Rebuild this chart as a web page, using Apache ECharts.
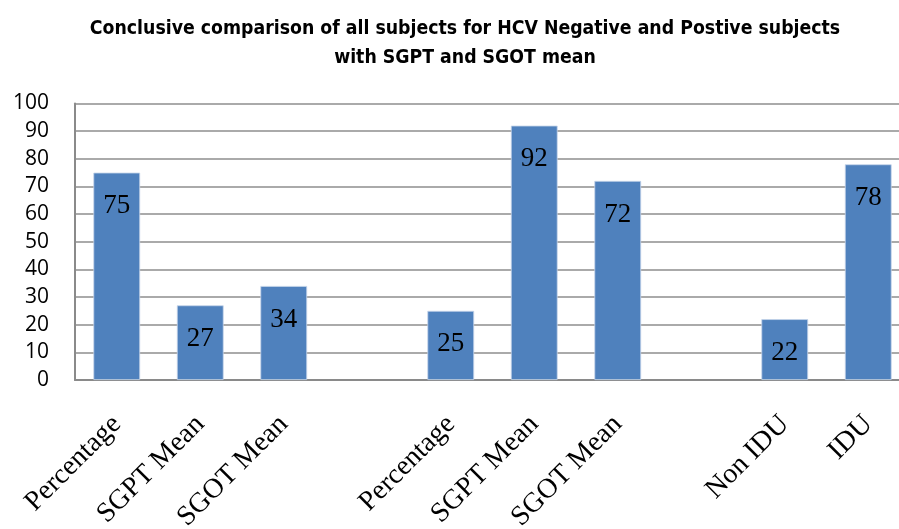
<!DOCTYPE html>
<html>
<head>
<meta charset="utf-8">
<script src="https://cdn.jsdelivr.net/npm/echarts@6/dist/echarts.min.js"></script>
<style>html,body{margin:0;padding:0;background:#fff}#c{width:899px;height:529px}</style>
</head>
<body>
<div id="c"></div>
<script>
const categories = ['Percentage','SGPT Mean','SGOT Mean','','Percentage','SGPT Mean','SGOT Mean','','Non IDU','IDU'];
const values = [75, 27, 34, '-', 25, 92, 72, '-', 22, 78];
const yTicks = {min: 0, max: 100, interval: 10};
const titleText = 'Conclusive comparison of all subjects for HCV Negative and Postive subjects\nwith SGPT and SGOT mean';

const chart = echarts.init(document.getElementById('c'), null, {renderer: 'canvas'});
chart.setOption({
  animation: false,
  backgroundColor: '#ffffff',
  title: {
    text: titleText,
    left: 460,
    top: 9,
    textAlign: 'center',
    textStyle: {
      fontFamily: "'Liberation Sans Narrow', 'DejaVu Sans Condensed', 'Liberation Sans', sans-serif",
      fontWeight: 'bold',
      fontSize: 19.3,
      lineHeight: 29,
      color: '#000'
    }
  },
  grid: {left: 75, width: 835, top: 103.5, bottom: 149, containLabel: false, outerBoundsMode: 'none'},
  xAxis: {
    type: 'category',
    data: categories,
    axisLine: {show: true, lineStyle: {color: '#8a8a8a', width: 2}},
    axisTick: {show: false},
    axisLabel: {
      interval: 0,
      rotate: 45,
      margin: 40,
      fontFamily: "'Liberation Serif', 'DejaVu Serif', serif",
      fontSize: 28,
      color: '#000'
    }
  },
  yAxis: {
    type: 'value',
    min: yTicks.min,
    max: yTicks.max,
    interval: yTicks.interval,
    axisLine: {show: true, lineStyle: {color: '#8a8a8a', width: 2}},
    axisTick: {show: false},
    splitLine: {show: true, lineStyle: {color: '#8e8e8e', width: 1.5}},
    axisLabel: {
      margin: 26,
      fontFamily: "'Open Sans', 'Liberation Sans', sans-serif",
      fontSize: 21,
      color: '#000'
    }
  },
  series: [{
    type: 'bar',
    data: values,
    barCategoryGap: '44%',
    itemStyle: {color: '#4f81bd', borderColor: '#c6d6ea', borderWidth: 0.8},
    label: {
      show: true,
      position: 'insideTop',
      distance: 20,
      fontFamily: "'Liberation Serif', 'DejaVu Serif', serif",
      fontSize: 27,
      color: '#000'
    }
  }]
});
</script>
</body>
</html>
